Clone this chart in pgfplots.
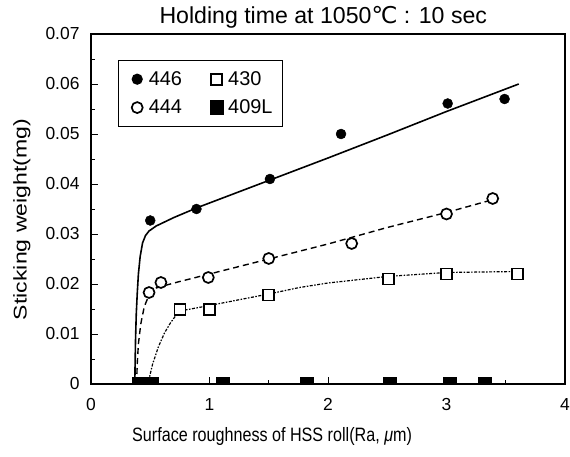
\documentclass[border=0pt]{standalone}
\usepackage{fontspec}
\setmainfont{Liberation Sans}
\newfontfamily\dejavu{DejaVu Sans}
\usepackage{pgfplots}
\pgfplotsset{compat=1.18}
\begin{document}
\begin{tikzpicture}
\begin{axis}[
  name=ax,
  scale only axis, width=474bp, height=350bp,
  xmin=0, xmax=4, ymin=0, ymax=0.07,
  xtick={0,1,2,3,4}, ytick={0,0.01,...,0.07},
  minor x tick num=1, minor y tick num=1,
  tick pos=left, tick align=inside,
  major tick length=7bp, minor tick length=4bp,
  every tick/.style={black, line width=0.8pt},
  axis line style={line width=1.5pt},
  clip marker paths=true,
  scaled y ticks=false,
  /pgf/number format/assume math mode=true,
  yticklabel style={/pgf/number format/fixed, /pgf/number format/precision=2, xshift=-8bp},
  xticklabel style={yshift=-11bp},
  tick label style={font=\fontsize{17.5}{20}\selectfont},
  title={Holding time at 1050{\dejavu ℃} : 10 sec},
  title style={font=\fontsize{23.2}{26}\selectfont, at={(axis description cs:0.49,1)}, anchor=base, yshift=5bp},
  xlabel={Surface roughness of HSS roll(Ra, \textit{μ}m)},
  xlabel style={font=\fontsize{16.2}{19}\selectfont, at={(axis description cs:0.382,-0.151)}, anchor=center, yscale=1.2},
  ylabel={Sticking weight(mg)},
  ylabel style={font=\fontsize{18.5}{21}\selectfont, at={(axis description cs:-0.1456,0.47)}, anchor=center, xscale=1.25},
  legend columns=2,
  legend image code/.code={\path (0bp,0bp) (19bp,0bp); \draw plot coordinates {(10bp,0bp)};},
  legend style={at={(axis description cs:0.057,0.926)}, anchor=north west,
    font=\fontsize{20}{23}\selectfont,
    draw=black, line width=1.2pt, inner xsep=8bp, inner ysep=9bp,
    /tikz/every even column/.append style={column sep=22bp},
    row sep=9bp},
  legend cell align=left,
]
% fitted curves
\addplot[black, line width=1.6pt, forget plot] coordinates {
  (0.370,0) (0.372,0.004) (0.376,0.009) (0.382,0.014) (0.390,0.018) (0.400,0.022)
  (0.415,0.0255) (0.435,0.0282) (0.460,0.0297) (0.490,0.0306) (0.55,0.0316)
  (0.70,0.0333) (0.90,0.0353) (1.20,0.0380) (1.50,0.0407) (2.00,0.0452)
  (2.50,0.0498) (3.00,0.0545) (3.61,0.0600)};
\addplot[black, line width=1.4pt, dash pattern=on 6bp off 4bp, forget plot] coordinates {
  (0.385,0) (0.390,0.004) (0.400,0.008) (0.420,0.012) (0.450,0.0155) (0.490,0.0178)
  (0.55,0.0192) (0.70,0.0202) (1.00,0.0220) (1.50,0.0250) (2.00,0.0280)
  (2.50,0.0313) (3.00,0.0343) (3.38,0.0368)};
\addplot[black, line width=1.2pt, dash pattern=on 1.5bp off 1.5bp on 3bp off 1.5bp, forget plot] coordinates {
  (0.48,0) (0.52,0.004) (0.57,0.0075) (0.62,0.0102) (0.67,0.0122) (0.71,0.0135)
  (0.75,0.0146) (1.00,0.0157) (1.50,0.0180) (1.76,0.0193) (2.00,0.0202)
  (2.50,0.0215) (3.00,0.0223) (3.60,0.0225)};
% measured points
\addplot[only marks, mark=*, mark size=5bp, black] coordinates {
  (0.50,0.0327) (0.89,0.0350) (1.51,0.0410) (2.11,0.0500) (3.01,0.0561) (3.49,0.0570)};
\addlegendentry{446}
\addplot[only marks, mark=square*, mark size=5.5bp, mark options={fill=white, line width=1.7pt}, black] coordinates {
  (0.75,0.0149) (1.00,0.0149) (1.50,0.0178) (2.51,0.0210) (3.00,0.0220) (3.60,0.0220)};
\addlegendentry{430}
\addplot[only marks, mark=*, mark size=5.5bp, mark options={fill=white, line width=1.7pt}, black] coordinates {
  (0.49,0.0183) (0.59,0.0203) (0.99,0.0213) (1.50,0.0251) (2.20,0.0281) (3.00,0.0340) (3.39,0.0371)};
\addlegendentry{444}
\addplot[only marks, mark=square*, mark size=6.5bp, black] coordinates {
  (0.40,0) (0.51,0) (1.11,0) (1.82,0) (2.52,0) (3.03,0) (3.32,0)};
\addlegendentry{409L}
\end{axis}
\pgfresetboundingbox
\path ([xshift=-91bp,yshift=-73bp]ax.south west) rectangle ([xshift=5bp,yshift=34bp]ax.north east);
\end{tikzpicture}
\end{document}
